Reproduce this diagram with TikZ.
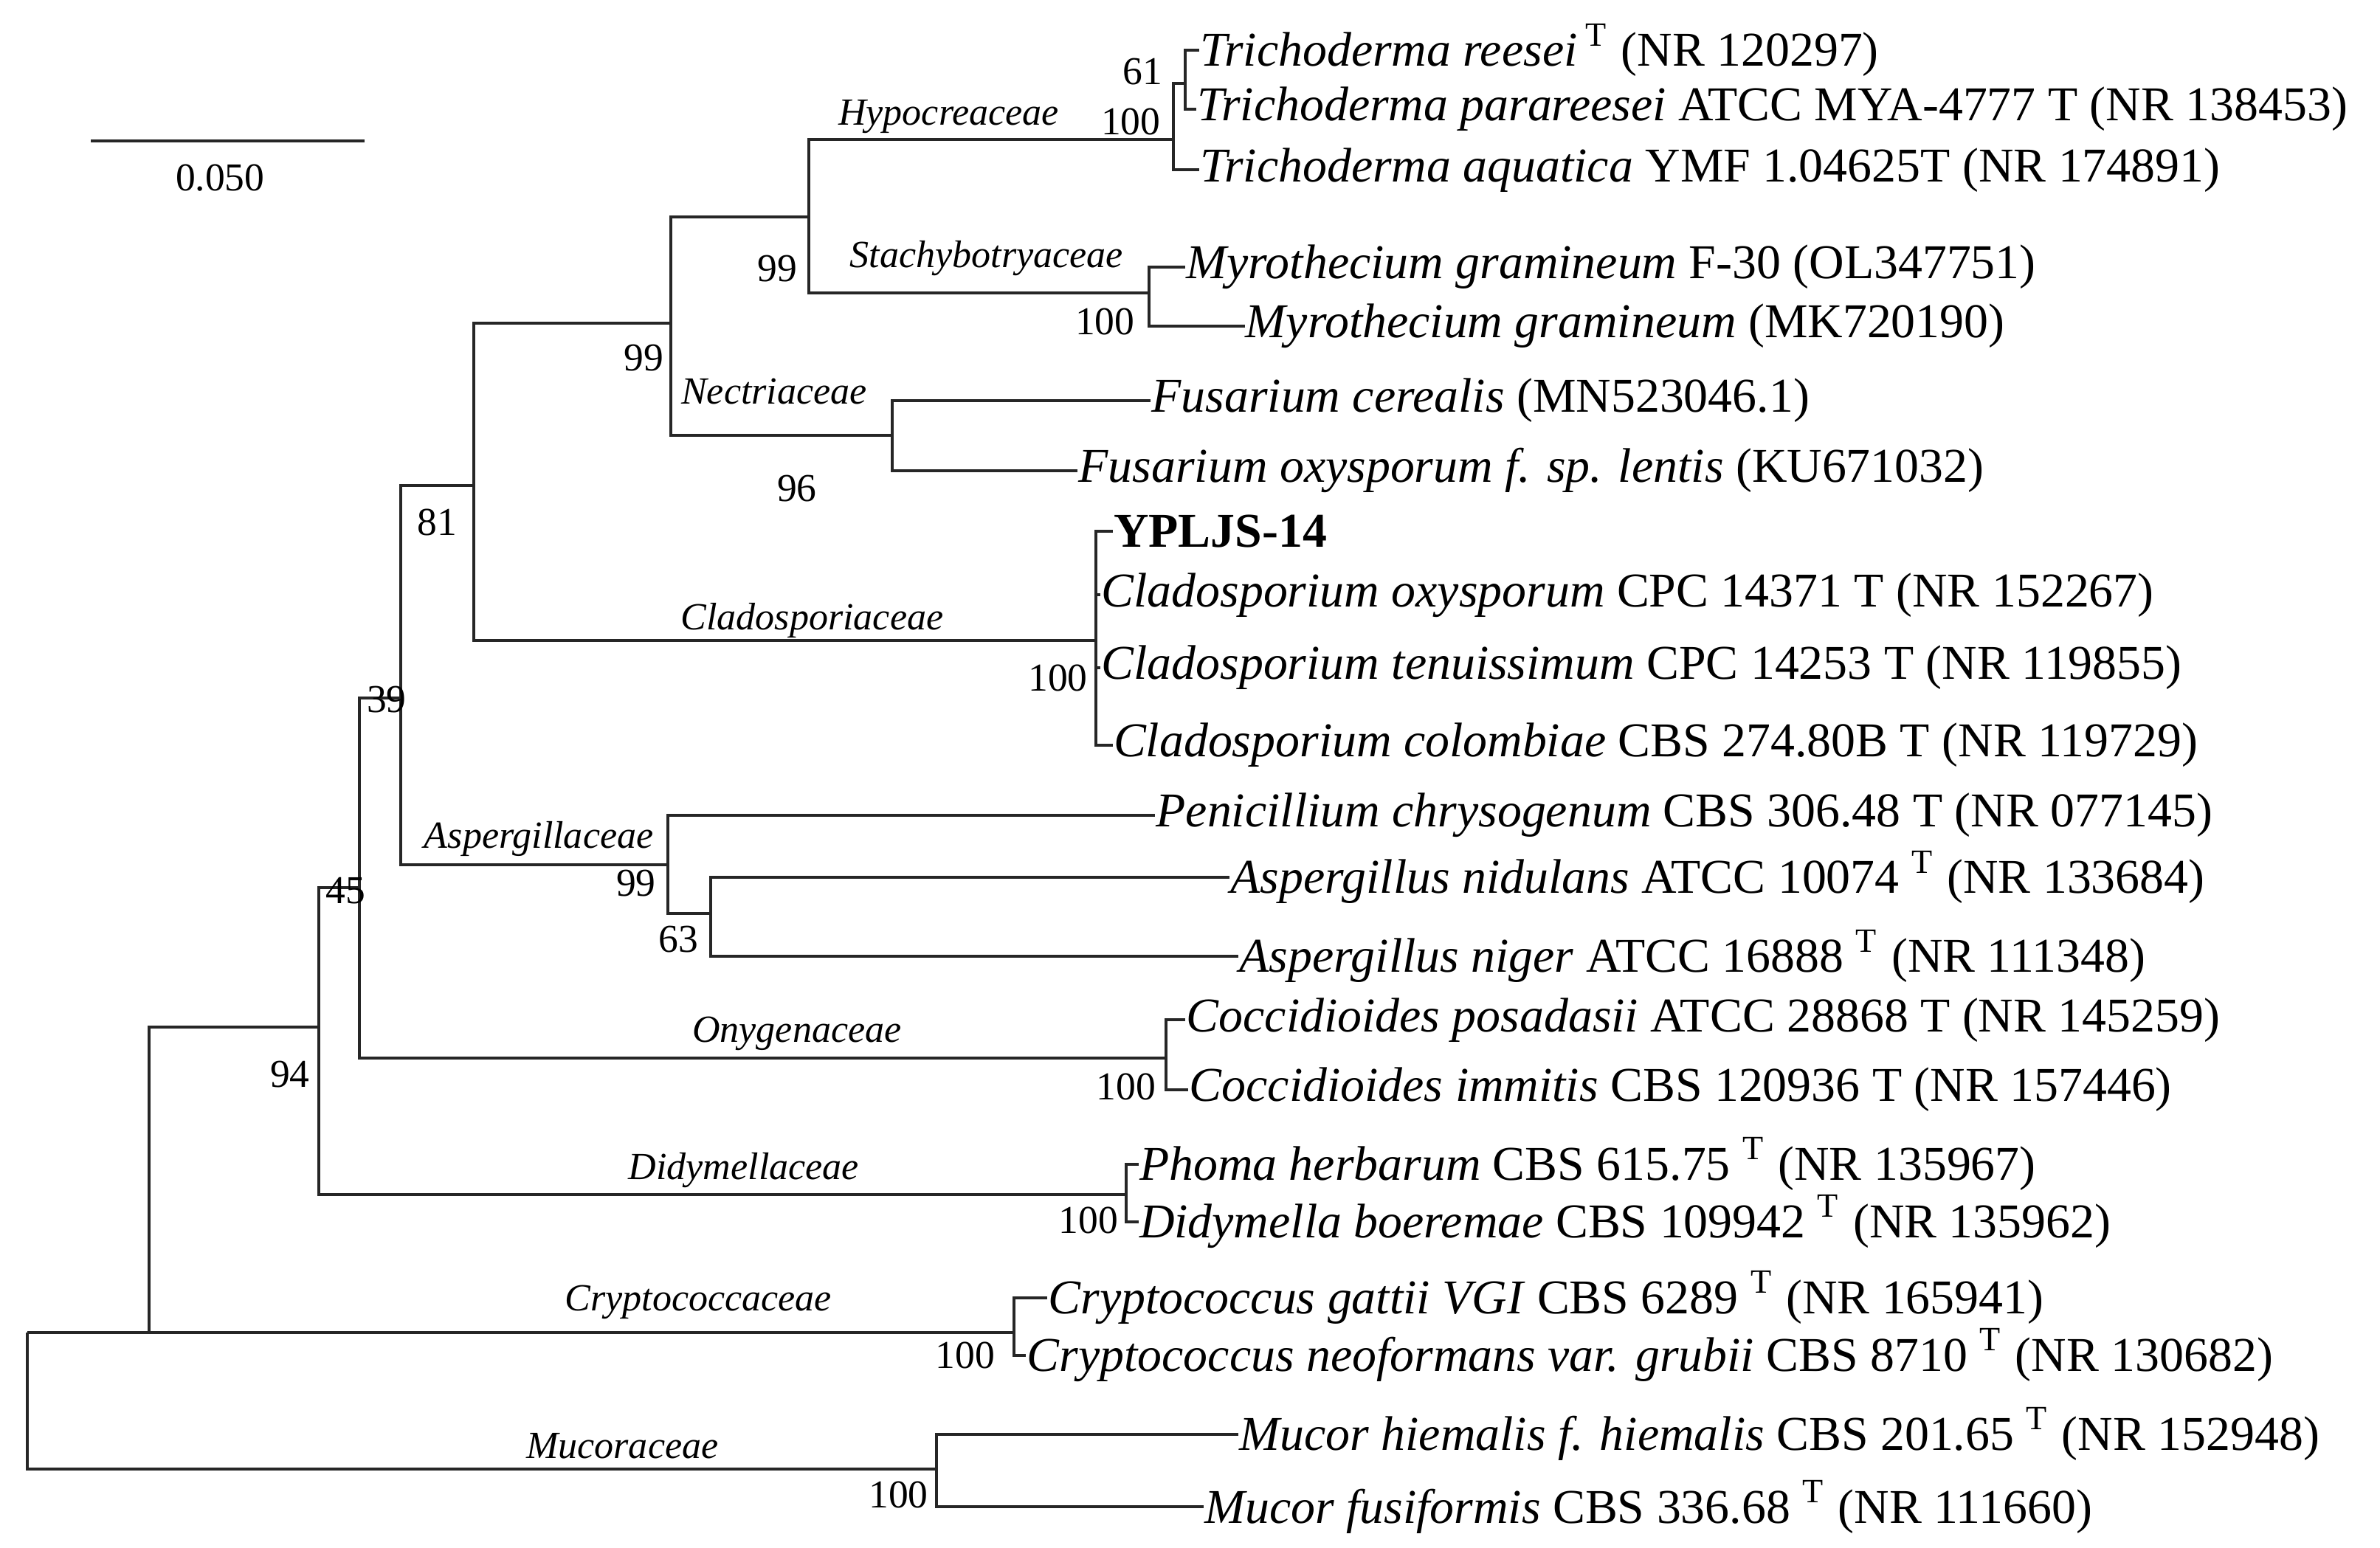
\documentclass[tikz,border=0pt]{standalone}
\usepackage{fontspec}
\setmainfont{Liberation Serif}
\usetikzlibrary{positioning}
\tikzset{
  branch/.style={line width=0.55pt, black!85},
  leaf/.style={anchor=west, inner sep=0pt, font=\fontsize{9.1}{11}\selectfont},
  boot/.style={inner sep=0pt, font=\fontsize{7.4}{9}\selectfont},
  fam/.style={inner sep=0pt, font=\fontsize{7.2}{9}\selectfont\itshape},
}
\newcommand{\sT}{\textsuperscript{T}}
\begin{document}
\begin{tikzpicture}[x=0.01cm, y=-0.01cm]
\useasboundingbox (0,0) rectangle (1568,1020);
% leaves
\node[leaf] (l1) at (790,33) {\textit{Trichoderma reesei}\,\sT\ (NR 120297)};
\node[leaf] (l2) at (788,72) {\textit{Trichoderma parareesei} ATCC MYA-4777 T (NR 138453)};
\node[leaf] (l3) at (790,112) {\textit{Trichoderma aquatica} YMF 1.04625T (NR 174891)};
\node[leaf] (l4) at (781,176) {\textit{Myrothecium gramineum} F-30 (OL347751)};
\node[leaf] (l5) at (820,215) {\textit{Myrothecium gramineum} (MK720190)};
\node[leaf] (l6) at (758,264) {\textit{Fusarium cerealis} (MN523046.1)};
\node[leaf] (l7) at (710,310) {\textit{Fusarium oxysporum f. sp. lentis} (KU671032)};
\node[leaf] (l8) at (733,350) {\textbf{YPLJS-14}};
\node[leaf] (l9) at (725,392) {\textit{Cladosporium oxysporum} CPC 14371 T (NR 152267)};
\node[leaf] (l10) at (725,440) {\textit{Cladosporium tenuissimum} CPC 14253 T (NR 119855)};
\node[leaf] (l11) at (733,491) {\textit{Cladosporium colombiae} CBS 274.80B T (NR 119729)};
\node[leaf] (l12) at (761,537) {\textit{Penicillium chrysogenum} CBS 306.48 T (NR 077145)};
\node[leaf] (l13) at (810,578) {\textit{Aspergillus nidulans} ATCC 10074 \sT\ (NR 133684)};
\node[leaf] (l14) at (816,630) {\textit{Aspergillus niger} ATCC 16888 \sT\ (NR 111348)};
\node[leaf] (l15) at (781,672) {\textit{Coccidioides posadasii} ATCC 28868 T (NR 145259)};
\node[leaf] (l16) at (783,718) {\textit{Coccidioides immitis} CBS 120936 T (NR 157446)};
\node[leaf] (l17) at (750,767) {\textit{Phoma herbarum} CBS 615.75 \sT\ (NR 135967)};
\node[leaf] (l18) at (750,805) {\textit{Didymella boeremae} CBS 109942 \sT\ (NR 135962)};
\node[leaf] (l19) at (690,855) {\textit{Cryptococcus gattii VGI} CBS 6289 \sT\ (NR 165941)};
\node[leaf] (l20) at (676,893) {\textit{Cryptococcus neoformans var. grubii} CBS 8710 \sT\ (NR 130682)};
\node[leaf] (l21) at (816,945) {\textit{Mucor hiemalis f. hiemalis} CBS 201.65 \sT\ (NR 152948)};
\node[leaf] (l22) at (793,993) {\textit{Mucor fusiformis} CBS 336.68 \sT\ (NR 111660)};
% internal nodes, placed at the height of their own stem
\coordinate (tri61) at (781,55);
\coordinate (tri) at (773,92);
\coordinate (myr) at (757,193);
\coordinate (hyp) at (533,143);
\coordinate (fus) at (588,287);
\coordinate (nec) at (442,213);
\coordinate (cla) at (722,422);
\coordinate (n81) at (312,320);
\coordinate (asp63) at (468,602);
\coordinate (asp) at (440,570);
\coordinate (n39) at (264,460);
\coordinate (ony) at (768,697);
\coordinate (n45) at (237,585);
\coordinate (did) at (742,787);
\coordinate (n94) at (210,677);
\coordinate (cry) at (668,878);
\coordinate (n98) at (98,878);
\coordinate (muc) at (617,968);
\coordinate (root) at (18,878);
% branches
\begin{scope}[branch]
\foreach \p/\c in {tri61/l1, tri61/l2, tri/l3, myr/l4, myr/l5, fus/l6, fus/l7,
  cla/l8, cla/l9, cla/l10, cla/l11, asp/l12, asp63/l13, asp63/l14,
  ony/l15, ony/l16, did/l17, did/l18, cry/l19, cry/l20, muc/l21, muc/l22}
  \draw (\p) |- (\c.west);
\foreach \p/\c in {tri/tri61, hyp/tri, hyp/myr, nec/hyp, nec/fus, n81/nec, n81/cla,
  asp/asp63, n39/n81, n39/asp, n45/n39, n45/ony, n94/n45, n94/did,
  n98/n94, n98/cry, root/n98, root/muc}
  \draw (\p) |- (\c);
\end{scope}
% bootstrap values
\node[boot] at (753,47) {61};
\node[boot] at (745,80) {100};
\node[boot] at (512,177) {99};
\node[boot] at (728,212) {100};
\node[boot] at (424,236) {99};
\node[boot] at (525,322) {96};
\node[boot] at (288,344) {81};
\node[boot] at (697,447) {100};
\node[boot, anchor=west] at (241,461) {39};
\node[boot] at (419,582) {99};
\node[boot] at (447,619) {63};
\node[boot, anchor=west] at (214,587) {45};
\node[boot] at (742,716) {100};
\node[boot] at (191,708) {94};
\node[boot] at (717,804) {100};
\node[boot] at (636,893) {100};
\node[boot] at (592,985) {100};
% family labels
\node[fam] at (625,77) {Hypocreaceae};
\node[fam] at (650,170) {Stachybotryaceae};
\node[fam] at (510,258) {Nectriaceae};
\node[fam] at (535,409) {Cladosporiaceae};
\node[fam] at (355,553) {Aspergillaceae};
\node[fam] at (525,681) {Onygenaceae};
\node[fam] at (490,771) {Didymellaceae};
\node[fam] at (460,858) {Cryptococcaceae};
\node[fam] at (410,953) {Mucoraceae};
% scale bar
\coordinate (sb1) at (60,93);
\coordinate (sb2) at (240,93);
\draw[branch] (sb1) -- (sb2);
\node[boot] at (145,117) {0.050};
\end{tikzpicture}
\end{document}
